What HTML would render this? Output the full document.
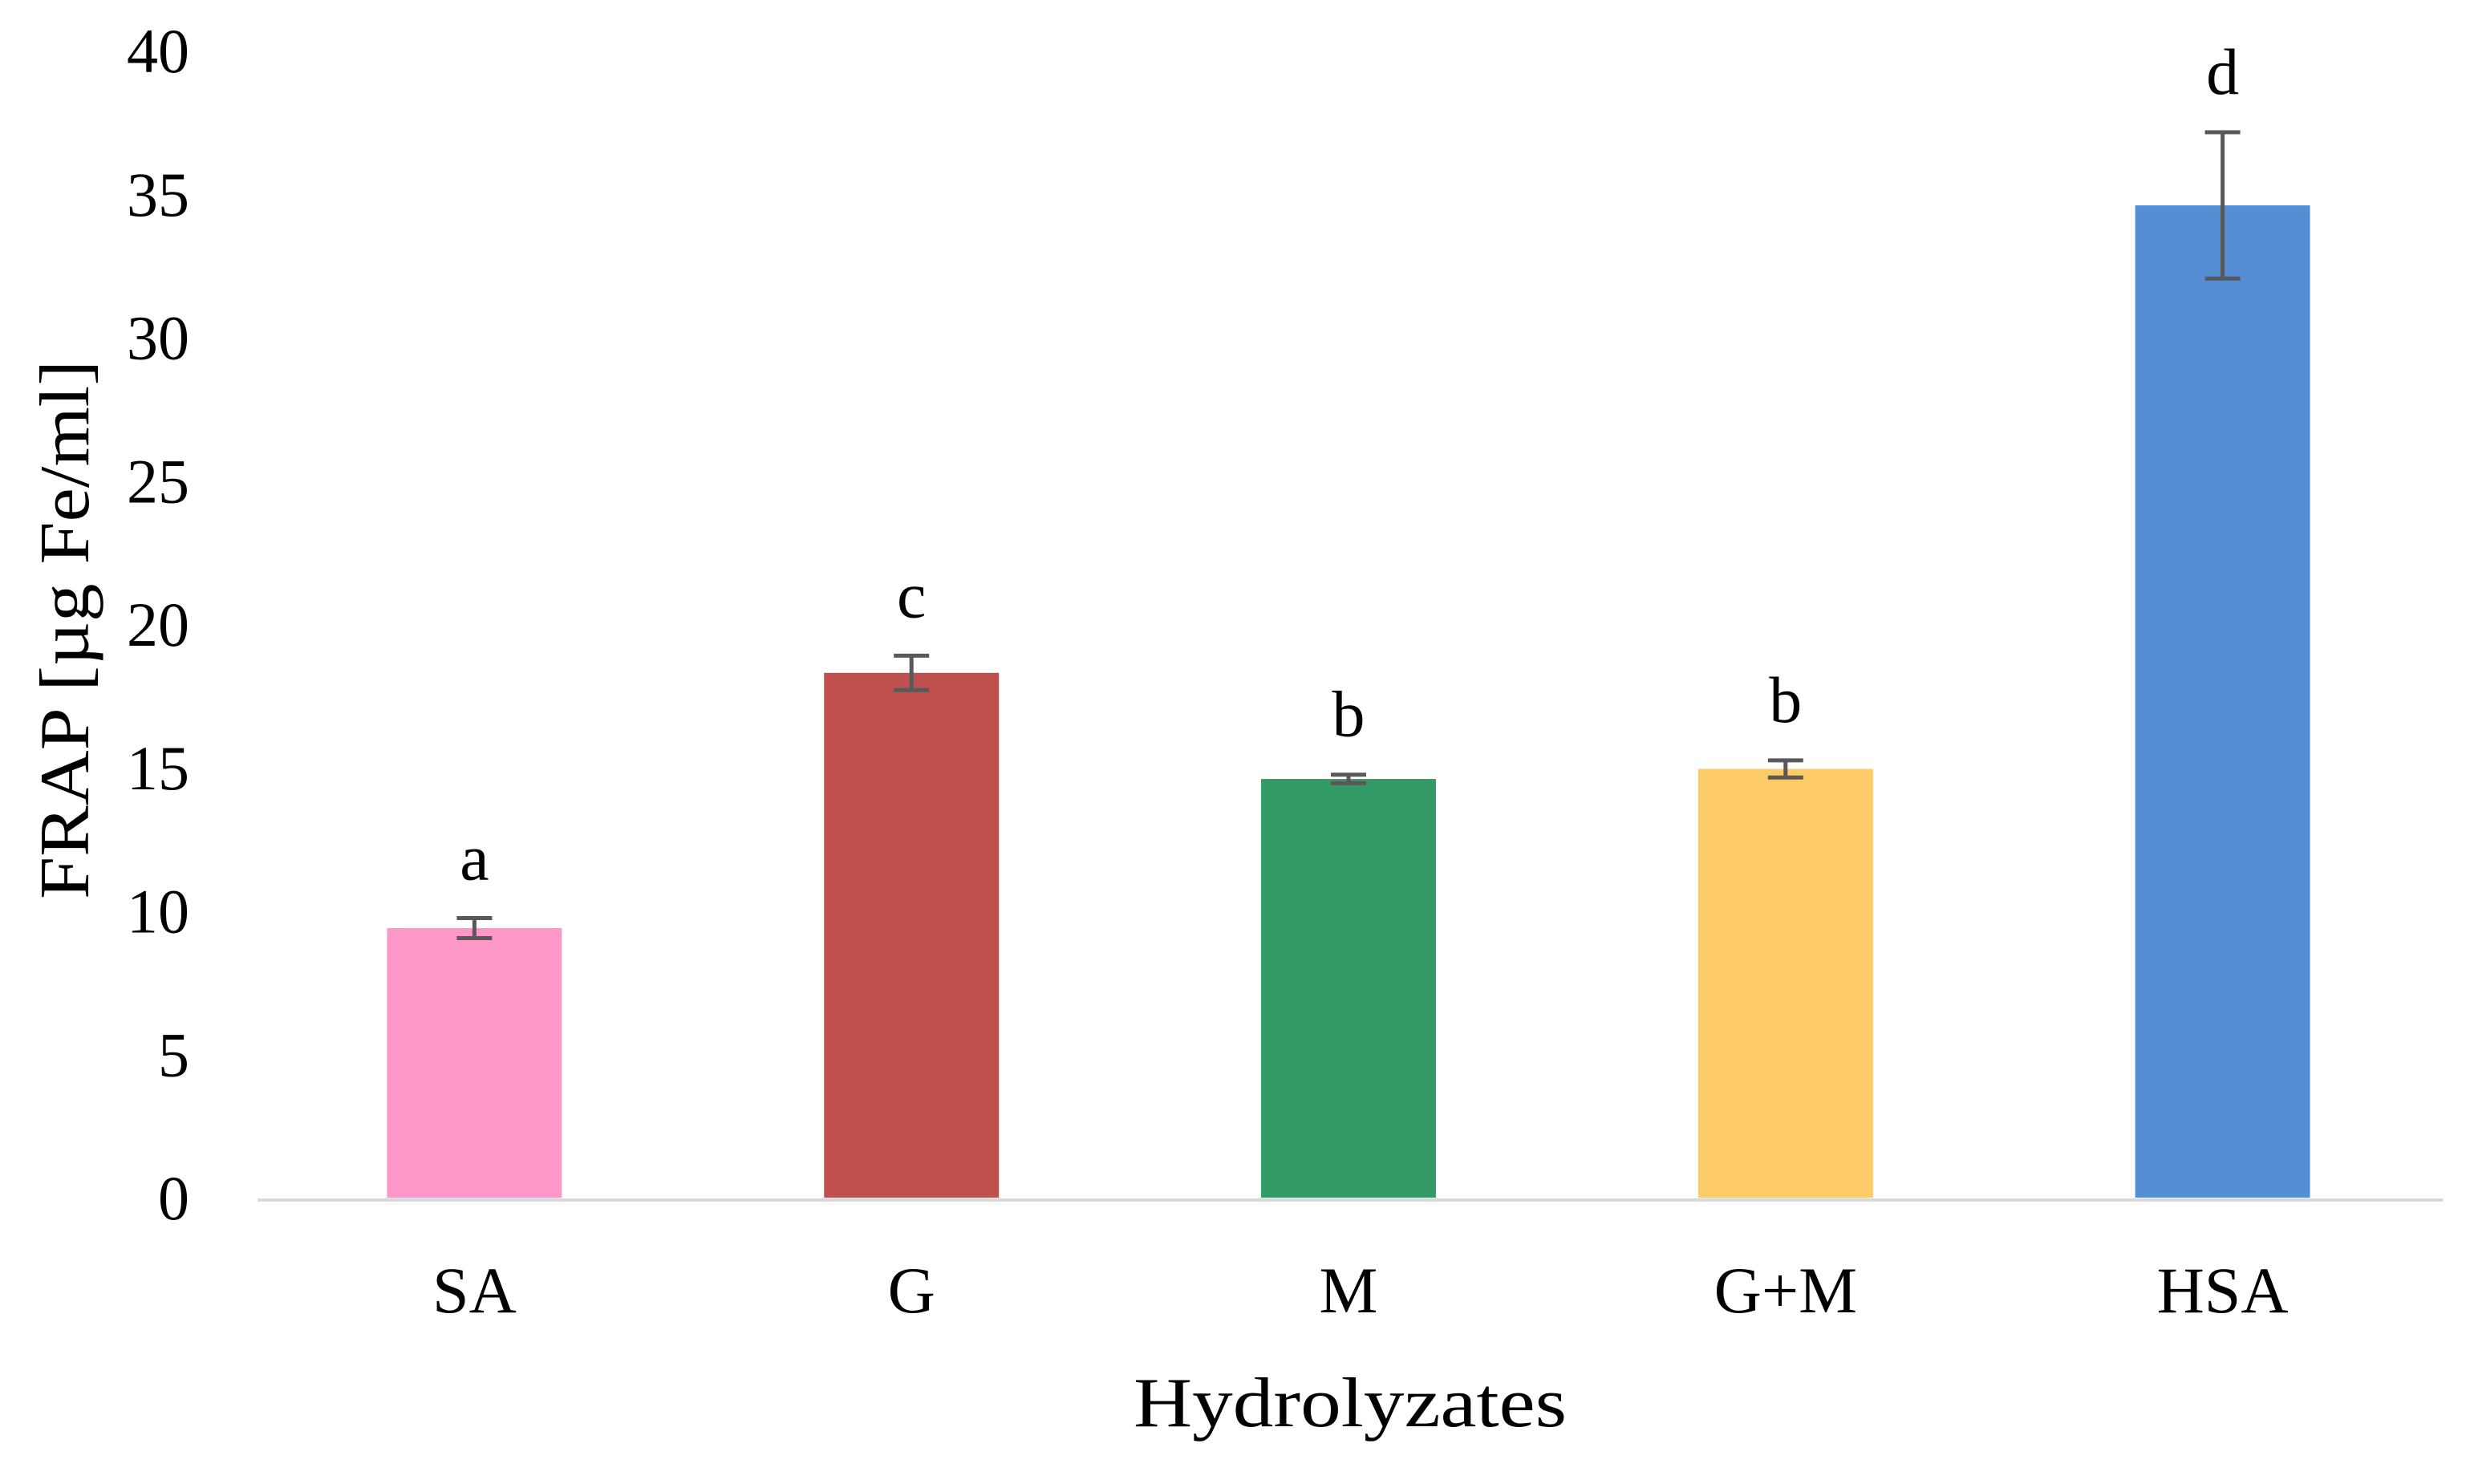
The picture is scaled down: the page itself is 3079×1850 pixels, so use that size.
<!DOCTYPE html>
<html><head><meta charset="utf-8"><style>
html,body{margin:0;padding:0;background:#fff;}
svg text{font-family:"Liberation Serif",serif;fill:#000;}
</style></head><body>
<svg id="chart" width="3079" height="1845" xmlns="http://www.w3.org/2000/svg">
<rect x="0" y="0" width="3079" height="1845" fill="#fff"/>
<g id="yticks"></g>
<g id="bars"></g>
<line x1="321" y1="1496" x2="3045" y2="1496" stroke="#D9D9D9" stroke-width="4"/>
<g id="errs"></g>
<g id="xlabels"></g>
<text transform="translate(110,785) rotate(-90)" text-anchor="middle" font-size="88" textLength="672" lengthAdjust="spacingAndGlyphs">FRAP [µg Fe/ml]</text>
<text x="1683" y="1778" text-anchor="middle" font-size="88" textLength="540" lengthAdjust="spacingAndGlyphs">Hydrolyzates</text>
</svg>
<script>
const categories = ["SA","G","M","G+M","HSA"];
const values = [9.4, 18.3, 14.6, 14.95, 34.6];
const errors = [0.35, 0.6, 0.15, 0.3, 2.55];
const letters = ["a","c","b","b","d"];
const colors = ["#FE98C9","#C0504D","#349A67","#FDCB67","#558ED5"];
const yTicks = [0,5,10,15,20,25,30,35,40];

const NS = "http://www.w3.org/2000/svg";
const x0 = 321, x1 = 3045, yBase = 1493, yTop = 63, yMax = 40;
const band = (x1 - x0) / categories.length;
function yScale(v){ return yBase - (v / yMax) * (yBase - yTop); }
function xCenter(i){ return x0 + band * (i + 0.5); }
function mk(tag, attrs, parent){
  const e = document.createElementNS(NS, tag);
  for (const k in attrs) e.setAttribute(k, attrs[k]);
  document.getElementById(parent).appendChild(e);
  return e;
}
yTicks.forEach(t => {
  const e = mk("text", {x: 236, y: yScale(t) + 27, "text-anchor": "end", "font-size": 78}, "yticks");
  
  
  e.textContent = t;
});
const bw = band * 0.4;
categories.forEach((c, i) => {
  const cx = xCenter(i) - 2;
  const b = mk("rect", {x: cx - bw/2, y: yScale(values[i]), width: bw, height: yBase - yScale(values[i]), fill: colors[i]}, "bars");
  
  
  const hi = yScale(values[i] + errors[i]), lo = yScale(values[i] - errors[i]);
  const g = mk("g", {stroke: "#595959", "stroke-width": 5}, "errs");
  
  
  [[cx,hi,cx,lo],[cx-22,hi,cx+22,hi],[cx-22,lo,cx+22,lo]].forEach(p => {
    const l = document.createElementNS(NS, "line");
    l.setAttribute("x1", p[0]); l.setAttribute("y1", p[1]); l.setAttribute("x2", p[2]); l.setAttribute("y2", p[3]);
    g.appendChild(l);
  });
  const lt = mk("text", {x: cx, y: hi - 48, "text-anchor": "middle", "font-size": 82}, "errs");
  
  
  lt.setAttribute("fill", "#000"); lt.setAttribute("stroke", "none");
  lt.textContent = letters[i];
  const xl = mk("text", {x: cx, y: 1636, "text-anchor": "middle", "font-size": 82}, "xlabels");
  
  
  xl.textContent = c;
});
</script>
</body></html>
